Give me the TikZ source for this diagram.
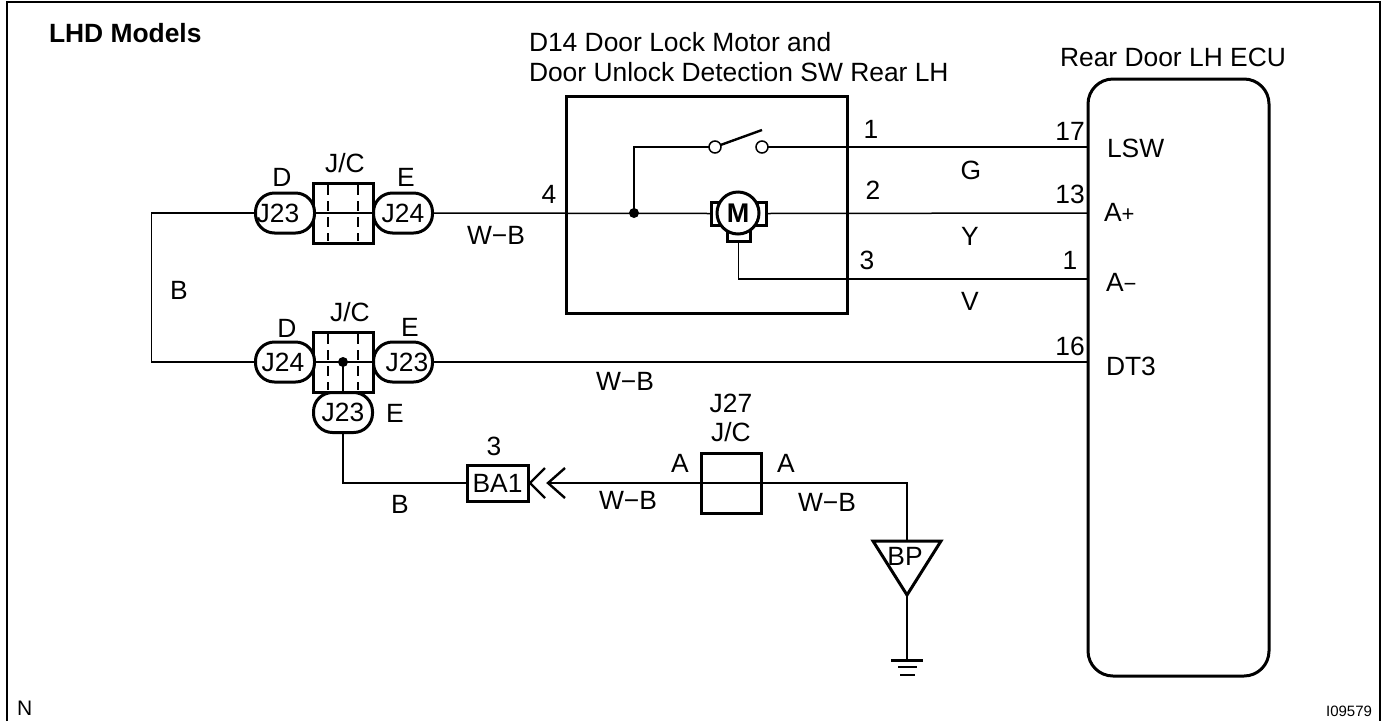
\documentclass[tikz,border=0pt]{standalone}
\usepackage{fontspec}
\setmainfont{Liberation Sans}
\usetikzlibrary{positioning,calc}
\newcommand{\lblfont}{\fontsize{26.4}{30}\selectfont}
\newcommand{\smallsign}[1]{{\fontsize{22}{24}\selectfont #1}}
\tikzset{
    every node/.style={outer sep=0pt},
    wire/.style={line width=1.5pt},
    frame/.style={line width=3pt},
    lbl/.style={inner sep=0pt,font=\lblfont},
    jconn/.style={draw,frame,fill=white,rounded corners=19pt,minimum width=59pt,minimum height=40pt,inner sep=0pt,font=\lblfont},
    jbox/.style={draw,frame,fill=white,minimum width=60pt,minimum height=60pt,inner sep=0pt},
    jdash/.style={wire,dash pattern=on 10pt off 6pt},
    dot/.style={circle,fill=black,inner sep=0pt,minimum size=10pt},
    swpin/.style={circle,draw,wire,fill=white,inner sep=0pt,minimum size=12pt},
    chev/.style={line width=2.4pt}
}
\begin{document}
\begin{tikzpicture}[x=1pt,y=-1pt]
    \useasboundingbox (0,0) rectangle (1383,721);
    % Outer frame
    \draw[line width=2.6pt] (7,721) -- (7,2) -- (1380,2) -- (1380,721);
    \node[lbl,anchor=west,font=\lblfont\bfseries] (title) at (49,33) {LHD Models};
    \node[lbl,anchor=west,font=\fontsize{21}{24}\selectfont] (ncode) at (17,708) {N};
    \node[lbl,anchor=east,font=\fontsize{15}{17}\selectfont] (icode) at (1372,711) {I09579};

    % Rear door ECU
    \node[lbl,anchor=west] (ecutitle) at (1060,57) {Rear Door LH ECU};
    \node[draw,frame,rounded corners=25pt,minimum width=181pt,minimum height=597pt,anchor=north west] (ecu) at (1088,79) {};
    \node[lbl,anchor=west] (lsw) at (1107,148) {LSW};
    \node[lbl,anchor=west] (aplus) at (1104,212) {A\smallsign{+}};
    \node[lbl,anchor=west] (aminus) at (1106,282) {A\smallsign{−}};
    \node[lbl,anchor=west] (dtt) at (1106,366) {DT3};
    \coordinate (p17) at (1088,147);
    \coordinate (p13) at (1088,213);
    \coordinate (p1) at (1088,279);
    \coordinate (p16) at (1088,362);

    % Door lock motor
    \node[lbl,anchor=west] (mtitlea) at (529,42) {D14 Door Lock Motor and};
    \node[lbl,anchor=west] (mtitleb) at (529,72) {Door Unlock Detection SW Rear LH};
    \node[draw,frame,minimum width=281pt,minimum height=217pt,anchor=north west] (unit) at (566,96) {};

    % Junction boxes
    \node[jbox] (jca) at (343,213) {};
    \node[jconn] (jdb) at (285,213) {\kern-14pt J23};
    \node[jconn] (jeb) at (403,213) {J24};
    \node[jconn] (jbot) at (343,412.5) {J23};
    \node[jbox] (jcb) at (343,362) {};
    \node[jconn] (jdd) at (285,362) {\kern-4pt J24};
    \node[jconn] (jed) at (403,362) {J23\kern-8pt};
    \node[draw,frame,minimum width=60pt,minimum height=60pt] (jct) at (731,483) {};
    \node[draw,frame,fill=white,minimum width=61pt,minimum height=36pt,inner sep=0pt,font=\lblfont] (ba) at (497.5,483) {BA1};
    \foreach \n in {jca,jcb} {
        \draw[jdash] ($(\n.north west)+(15,2)$) -- ($(\n.south west)+(15,-2)$);
        \draw[jdash] ($(\n.north east)+(-15,2)$) -- ($(\n.south east)+(-15,-2)$);
    }

    % Switch and motor
    \node[dot] (jn) at (634,213) {};
    \node[swpin] (swa) at (715,147) {};
    \node[swpin] (swb) at (762,147) {};
    \draw[chev] (swa) -- (762,130);
    \node[draw,frame,minimum width=55pt,minimum height=23pt] (mbody) at (738.5,213.5) {};
    \node[draw,frame,minimum width=23pt,minimum height=38pt] (mfoot) at (738.5,222) {};
    \node[circle,draw,frame,fill=white,minimum size=42pt,inner sep=0pt,font=\fontsize{27}{30}\selectfont\bfseries] (motor) at (738,213) {M};
    \coordinate (mleft) at (mbody.west);
    \coordinate (mright) at (mbody.east);
    \coordinate (mdown) at (mfoot.south);

    % Wires
    \draw[wire] (jdb.west) -- ++(-104,0) |- (jdd.west);
    \draw[wire] (jeb.east) -- (mleft);
    \draw[wire] (jn.center) |- (swa);
    \draw[wire] (swb) -- (p17);
    \draw[wire] (mright) -- (p13);
    \draw[wire] (mdown) |- (p1);
    \draw[wire] (jed.east) -- (p16);
    \draw[wire] (jca.west) -- (jca.east);
    \draw[wire] (jcb.west) -- (jcb.east);
    \node[dot] (jnb) at (343,362) {};
    \draw[wire] (jnb.center) -- (jbot.north);
    \draw[wire] (jbot.south) |- (ba.west);
    \draw[wire] (jct.west) -- (jct.east);

    % Double arrow mark
    \coordinate (chevb) at (548,483);
    \draw[chev] (545,468) -- (530,483) -- (545,498);
    \draw[chev] (565,468) -- (chevb) -- (565,498);
    \draw[wire] (chevb) -- (jct.west);

    % Ground
    \coordinate (gnd) at (907,660);
    \coordinate (bptop) at (907,541);
    \coordinate (bptip) at (907,595);
    \draw[wire] (jct.east) -| (bptop);
    \draw[frame,line join=miter] (873,541) -- (941,541) -- (bptip) -- cycle;
    \node[lbl] (bp) at (905,556) {BP};
    \draw[wire] (bptip) -- (gnd);
    \draw[frame] (891,660) -- (923,660);
    \draw[wire] (898,667) -- (917,667);
    \draw[wire] (900,675) -- (915,675);

    % Labels
    \foreach \t/\x/\y [count=\i] in {1/871/129,2/873/190,3/867/260,4/549/194,17/1070/131,13/1070/194,1/1070/260,16/1070/346,
        G/971/170,Y/970/236,V/970/301,B/179/290,B/400/504,
        {J/C}/345/163,D/282/177,E/406/177,{J/C}/350/312,D/287/328,E/410/327,E/395/413,
        3/494/446,{J27}/731/403,{J/C}/731/432,A/680/463,A/786/463}
        \node[lbl] (t\i) at (\x,\y) {\t};
    \foreach \x/\y [count=\i] in {496/235,625/381,628/500,827/502}
        \node[lbl] (wb\i) at (\x,\y) {W−B};
\end{tikzpicture}
\end{document}
